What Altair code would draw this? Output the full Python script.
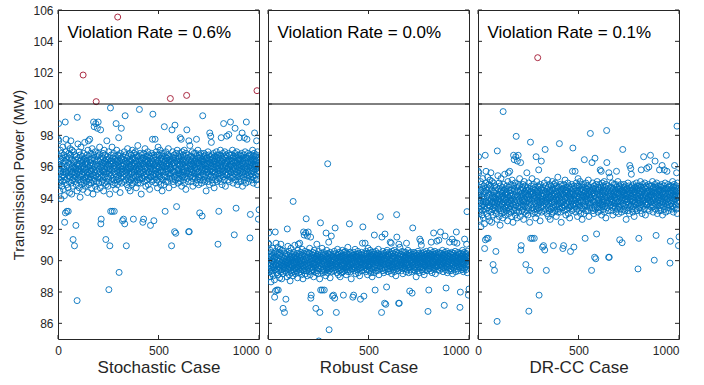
import altair as alt
import pandas as pd

# Shared sample deviations (tenths of MW, +50 offset);
# the three panels show the same 1000 samples shifted and scaled.
dev_codes = """
71 46 81 70 55 43 52 60 38 49 57 64 45 51 33 58 47 62 54 41
53 44 59 66 48 50 39 56 61 47 52 35 18 57 45 82 24 63 50 71
49 58 42 25 54 60 46 67 51 40 25 56 48 62 44 53 59 37 50 65
47 55 61 70 43 52 58 36 49 64 45 54 50 41 07 57 63 48 53 46
56 03 50 44 61 53 47 58 16 52 42 60 49 55 38 85 51 46 68 54
45 59 52 48 63 40 55 50 57 34 61 47 53 66 44 51 58 42 56 49
60 48 54 39 52 57 45 62 50 43 58 53 69 46 55 41 59 51 47 56
52 44 57 61 48 55 37 50 64 46 70 53 42 58 49 60 45 71 54 51
47 56 62 43 51 58 40 54 49 65 45 52 59 36 55 48 82 61 44 79
53 46 58 50 63 41 55 81 48 95 57 44 60 51 39 78 54 47 62 82
49 57 43 61 52 46 66 50 55 40 58 77 17 53 20 47 60 44 56 51
54 48 62 45 59 51 38 56 50 64 43 57 52 47 61 55 49 07 58 42
50 56 70 44 53 60 47 58 41 55 51 63 46 54 49 59 36 03 52 57
91 25 55 48 61 44 57 51 66 25 53 46 59 42 56 50 62 45 54 25
52 58 43 60 49 55 39 57 81 47 53 64 45 51 58 42 56 50 61 46
55 72 48 53 60 44 57 51 37 62 49 54 46 59 78 52 43 58 50 56
19 54 60 47 52 20 58 44 55 63 49 17 51 86 57 45 61 50 53 03
48 56 42 59 51 65 46 53 60 40 55 49 57 44 62 52 47 58 38 54
57 45 53 61 49 55 42 58 50 64 46 52 59 43 20 56 48 62 51 54
50 59 44 55 63 47 52 57 40 61 53 48 56 45 60 51 67 43 55 49
54 47 60 52 90 45 57 50 62 43 55 49 58 36 53 61 46 56 51 59
46 18 55 59 50 20 62 48 54 44 57 52 65 47 53 58 41 60 49 56
58 51 45 60 53 48 63 55 42 57 50 61 46 54 59 39 56 52 47 16
53 60 47 55 50 62 44 57 52 71 48 87 56 45 59 51 19 61 54 49
47 55 71 51 60 43 56 49 63 52 58 45 54 61 40 57 50 66 48 53
56 49 61 44 53 58 47 64 51 55 42 59 50 57 46 62 53 38 55 60
51 58 45 54 62 48 56 42 79 53 60 47 25 57 50 63 44 55 52 59
54 47 59 52 44 61 56 49 65 51 57 40 55 60 46 53 58 48 97 52
49 57 53 60 03 55 77 46 58 51 63 44 56 50 59 42 54 61 47 12
56 80 50 45 59 11 53 62 48 28 57 51 64 46 55 58 43 60 52 49
51 59 46 55 62 49 54 72 44 57 60 48 71 53 41 56 50 63 47 58
55 48 61 52 45 58 50 64 43 56 53 60 47 57 51 39 62 54 49 99
77 53 46 59 51 56 44 61 49 12 70 55 12 58 50 67 47 54 60 52
48 57 52 44 60 55 50 63 46 58 41 54 59 51 56 47 62 53 49 57
53 46 58 51 62 55 43 57 71 49 60 52 45 56 50 64 47 55 59 42
56 50 61 47 24 54 59 45 53 62 48 57 51 43 60 55 22 52 58 86
49 57 53 60 45 55 62 47 51 58 44 56 52 61 48 54 38 59 50 55
52 59 46 56 50 63 44 57 53 48 61 55 42 58 75 51 56 47 60 73
54 48 69 52 58 45 61 50 56 43 59 53 47 62 51 57 40 55 49 60
50 57 53 45 60 55 48 63 52 58 44 56 61 49 54 04 51 59 46 25
56 49 61 53 46 58 51 64 44 55 60 72 48 57 52 42 59 54 50 62
53 47 58 81 51 60 45 56 52 63 49 55 41 59 54 48 61 50 57 73
48 56 52 60 45 57 53 49 62 74 51 58 44 55 61 47 54 82 50 57
55 50 61 46 57 53 48 64 52 59 43 56 51 60 47 54 10 58 49 62
78 52 57 45 60 27 54 50 63 48 56 42 59 53 47 61 51 55 44 58
53 58 72 49 55 61 46 57 51 44 60 54 48 62 52 75 56 41 59 50
57 50 55 47 61 53 72 45 58 52 63 49 56 43 59 51 82 54 48 71
52 59 46 56 50 62 44 57 53 60 48 55 61 51 08 54 23 58 47 56
49 56 61 53 45 58 51 64 47 55 60 43 57 52 50 62 46 75 54 58
55 48 60 52 57 45 61 70 50 54 42 58 63 51 56 49 20 53 59 26
"""
# Extreme samples (index, deviation in tenths)
spike_idx = [95, 125, 253, 297, 304, 990]
spike_dev = [-82, 62, -75, 99, -64, 52]

cases = ["Stochastic Case", "Robust Case", "DR-CC Case"]
centers = [95.65, 89.75, 93.75]
spreads = [1.0, 0.65, 0.93]
rates = ["0.6%", "0.0%", "0.1%"]
limit = 100
y_ticks = [86, 88, 90, 92, 94, 96, 98, 100, 102, 104, 106]
x_ticks = [0, 500, 1000]

devs = [int(t) - 50 for t in dev_codes.split()]
idx = list(range(1, len(devs) + 1)) + spike_idx
devs = devs + spike_dev

BLUE = "#0072BD"
RED = "#A2142F"
INK = "#262626"
FONT = "Liberation Sans"
W, H = 201, 329
TL = 4

xs = alt.Scale(domain=[0, 1000], nice=False, zero=False)
ys = alt.Scale(domain=[85, 106], nice=False, zero=False)


def panel(i):
    df = pd.DataFrame({
        "x": idx,
        "y": [centers[i] + spreads[i] * d / 10 for d in devs],
    })
    blue_df = df[df["y"] <= limit]
    red_df = df[df["y"] > limit]
    xaxis = alt.Axis(values=x_ticks, format="d", title=cases[i], labelFontSize=12,
                     titleFontSize=17, titleFontWeight="normal", labelPadding=6,
                     titlePadding=3, ticks=False, tickSize=0, domain=False, grid=False,
                     labelFlush=False,
                     labelAlign={"condition": {"test": "datum.value == 1000", "value": "right"},
                                 "value": "center"})
    if i == 0:
        yaxis = alt.Axis(values=y_ticks, title="Transmission Power (MW)", labelFontSize=12,
                         titleFontSize=14.5, titleFontWeight="normal", labelPadding=5,
                         titlePadding=6, ticks=False, tickSize=0, domain=False, grid=False)
    else:
        yaxis = None
    X = lambda f: alt.X(f + ":Q", scale=xs, axis=xaxis)
    Y = lambda f: alt.Y(f + ":Q", scale=ys, axis=yaxis)
    pt = dict(shape="circle", filled=False, size=36, strokeWidth=0.9, clip=True, opacity=1)
    blue = alt.Chart(blue_df).mark_point(color=BLUE, **pt).encode(x=X("x"), y=Y("y"))
    red = alt.Chart(red_df).mark_point(color=RED, **pt).encode(x=X("x"), y=Y("y"))
    line = alt.Chart(pd.DataFrame({"y": [limit]})).mark_rule(color="black", strokeWidth=1).encode(
        y=Y("y")
    )
    ydf = pd.DataFrame({"y": y_ticks})
    xdf = pd.DataFrame({"x": x_ticks})
    tk = dict(color=INK, strokeWidth=1)
    lt = alt.Chart(ydf).mark_rule(**tk).encode(y=Y("y"), x=alt.value(0), x2=alt.value(TL))
    rt = alt.Chart(ydf).mark_rule(**tk).encode(y=Y("y"), x=alt.value(W - TL), x2=alt.value(W))
    bt = alt.Chart(xdf).mark_rule(**tk).encode(x=X("x"), y=alt.value(H - TL), y2=alt.value(H))
    tt = alt.Chart(xdf).mark_rule(**tk).encode(x=X("x"), y=alt.value(0), y2=alt.value(TL))
    label = alt.Chart(pd.DataFrame({"t": ["Violation Rate = " + rates[i]]})).mark_text(
        align="left", baseline="alphabetic", fontSize=17, font=FONT, color="black"
    ).encode(text="t:N", x=alt.value(9.5), y=alt.value(27.5))
    return alt.layer(blue, red, line, lt, rt, bt, tt, label).properties(width=W, height=H)


chart = alt.hconcat(panel(0), panel(1), panel(2), spacing=4).resolve_scale(
    x="independent", y="independent"
).properties(
    padding={"left": 11, "top": 3, "right": 5, "bottom": 5}
).configure_view(stroke=INK, strokeWidth=1).configure_axis(
    labelFont=FONT, titleFont=FONT, labelColor=INK, titleColor=INK
)

chart.save("out.html", embed_options={"renderer": "svg", "actions": False})
